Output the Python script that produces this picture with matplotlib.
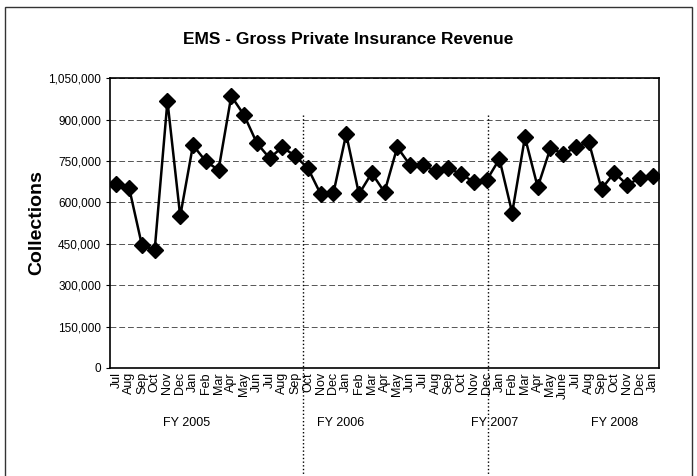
import matplotlib
matplotlib.use('Agg')
import matplotlib.pyplot as plt
from matplotlib.patches import Rectangle
from matplotlib.ticker import FuncFormatter
import numpy as np

plt.rcParams['font.family'] = ['Liberation Sans', 'DejaVu Sans']

months = ['Jul', 'Aug', 'Sep', 'Oct', 'Nov', 'Dec', 'Jan', 'Feb', 'Mar', 'Apr', 'May', 'Jun',
          'Jul', 'Aug', 'Sep', 'Oct', 'Nov', 'Dec', 'Jan', 'Feb', 'Mar', 'Apr', 'May', 'Jun',
          'Jul', 'Aug', 'Sep', 'Oct', 'Nov', 'Dec', 'Jan', 'Feb', 'Mar', 'Apr', 'May', 'June',
          'Jul', 'Aug', 'Sep', 'Oct', 'Nov', 'Dec', 'Jan']
collections = [666000, 652000, 445000, 427000, 967000, 550000, 807000, 749000, 717000, 985000,
               916000, 815000, 760000, 800000, 768000, 724000, 630000, 634000, 847000, 630000,
               706000, 637000, 800000, 735000, 735000, 713000, 724000, 702000, 674000, 680000,
               757000, 562000, 836000, 655000, 797000, 775000, 800000, 819000, 648000, 708000,
               663000, 688000, 697000]
fy_labels = ['FY 2005', 'FY 2006', 'FY 2007', 'FY 2008']
fy_pos = [5.5, 17.6, 29.6, 39.0]
fy_breaks = [14.6, 29.1]

x = np.arange(len(months))

fig = plt.figure(figsize=(6.97, 4.76), dpi=100)
ax = fig.add_axes([0.1578, 0.2269, 0.7877, 0.609])

ax.plot(x, collections, color='black', linewidth=1.8, marker='D', markersize=8,
        markerfacecolor='black', markeredgecolor='black', zorder=3)

ax.set_xlim(-0.5, len(months) - 0.5)
ax.set_ylim(0, 1050000)
ax.set_yticks(np.arange(0, 1050001, 150000))
ax.yaxis.set_major_formatter(FuncFormatter(lambda v, p: '{:,.0f}'.format(v)))
ax.set_xticks(x)
ax.set_xticklabels(months, rotation=90, fontsize=9)
ax.tick_params(axis='y', labelsize=8.5, length=3, direction='out')
ax.tick_params(axis='x', length=0, pad=3)
ax.yaxis.grid(True, linestyle=(0, (6, 3)), color='#555555', linewidth=0.7)
ax.set_axisbelow(True)
for s in ax.spines.values():
    s.set_linewidth(1.2)

ax.set_ylabel('Collections', fontsize=14, fontweight='bold', labelpad=2)

# fiscal year separators
for b in fy_breaks:
    ax.plot([b, b], [915000, -395000], color='black', linestyle=':', linewidth=1,
            clip_on=False, zorder=2)

for lab, p in zip(fy_labels, fy_pos):
    ax.text(p, -200000, lab, ha='center', va='center', fontsize=9)

fig.text(0.5, 1 - 40 / 476, 'EMS - Gross Private Insurance Revenue', ha='center', va='center',
         fontsize=12.5, fontweight='bold')

fig.patches.append(Rectangle((5 / 697, -0.02), 687 / 697, 1 - 7 / 476 + 0.02,
                             transform=fig.transFigure, fill=False, edgecolor='#333333',
                             linewidth=1))

fig.savefig('out.png', dpi=100)
